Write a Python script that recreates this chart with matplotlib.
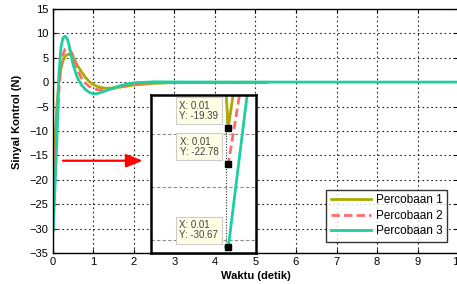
import numpy as np
import matplotlib
matplotlib.use("Agg")
import matplotlib.pyplot as plt

plt.rcParams["font.family"] = ["Liberation Sans", "DejaVu Sans"]

# Control signal of the three trials.
t1 = [0, 0.01, 0.03, 0.05, 0.1, 0.15, 0.2, 0.25, 0.3, 0.35, 0.4, 0.45, 0.5, 0.6, 0.7,
      0.8, 0.9, 1.0, 1.1, 1.2, 1.3, 1.4, 1.6, 1.8, 2.0, 2.5, 3.0, 4.0, 5.3]
u1 = [-15.5, -19.39, -15.9, -12.5, -5.0, 0.2, 2.8, 4.3, 5.2, 5.6, 5.7, 5.6, 5.2, 3.5, 2.2,
      1.0, 0.1, -0.5, -0.9, -1.15, -1.25, -1.25, -1.1, -0.85, -0.6, -0.25, -0.1, -0.05, -0.05]

t2 = [0, 0.01, 0.05, 0.1, 0.15, 0.2, 0.25, 0.3, 0.35, 0.4, 0.5, 0.6, 0.7, 0.8, 0.9,
      1.0, 1.1, 1.2, 1.3, 1.4, 1.6, 1.8, 2.0, 2.5, 3.0, 4.0, 5.3]
u2 = [-22.78, -22.78, -16.6, -9.0, -2.0, 3.0, 5.5, 6.7, 7.0, 6.9, 5.5, 2.6, 0.9, -0.2, -0.9,
      -1.3, -1.55, -1.6, -1.6, -1.5, -1.1, -0.7, -0.4, -0.15, -0.1, -0.08, -0.08]

t3 = [0, 0.01, 0.05, 0.1, 0.15, 0.2, 0.25, 0.3, 0.35, 0.4, 0.5, 0.6, 0.7, 0.8, 0.9,
      1.0, 1.1, 1.2, 1.4, 1.6, 1.8, 2.0, 2.5, 3.0, 4.0, 10.0]
u3 = [-30.67, -30.67, -22.5, -12.3, 1.5, 7.0, 9.0, 9.4, 9.0, 7.6, 3.6, 1.0, -0.5, -1.5, -2.1,
      -2.4, -2.35, -2.1, -1.5, -0.9, -0.45, -0.15, 0.05, 0.02, 0.0, 0.0]

labels = ["Percobaan 1", "Percobaan 2", "Percobaan 3"]
colors = ["#aaaa00", "#ff6a6a", "#1ecf9e"]
styles = ["-", "--", "-"]
series = [(t1, u1), (t2, u2), (t3, u3)]

# datatips shown in the zoomed inset
tip_x = [0.01, 0.01, 0.01]
tip_y = [-19.39, -22.78, -30.67]

fig = plt.figure(figsize=(4.57, 2.84), dpi=100)
ax = fig.add_axes([0.1155, 0.109, 0.887, 0.860])

for (t, u), lab, c, ls in zip(series, labels, colors, styles):
    ax.plot(t, u, ls, color=c, lw=2.0, label=lab,
            dashes=(3, 1.5) if ls == "--" else (None, None))

ax.set_xlim(0, 10)
ax.set_ylim(-35, 15)
ax.set_xticks(range(0, 11))
ax.set_yticks(range(-35, 16, 5))
ax.grid(True, color="0.15", ls=(0, (1.5, 2.5)), lw=0.8)
ax.tick_params(direction="in", length=3, labelsize=8, top=True, right=True, pad=3)
for s in ax.spines.values():
    s.set_linewidth(1.0)
ax.set_xlabel("Waktu (detik)", fontsize=8, fontweight="bold", labelpad=3)
ax.set_ylabel("Sinyal Kontrol (N)", fontsize=8, fontweight="bold")
ax.yaxis.set_label_coords(-0.075, 0.535)

leg = ax.legend(loc="lower right", bbox_to_anchor=(0.973, 0.045), fontsize=8.5,
                frameon=True, fancybox=False, handlelength=3.4, handletextpad=0.4,
                borderpad=0.4, labelspacing=0.3, borderaxespad=0)
leg.get_frame().set_edgecolor("black")
leg.get_frame().set_linewidth(1.0)

# red arrow pointing at the inset
ax.annotate("", xy=(2.22, -16.1), xytext=(0.25, -16.1),
            arrowprops=dict(arrowstyle="-|>,head_length=1.0,head_width=0.4",
                            color="red", lw=1.6, shrinkA=0, shrinkB=0))

# zoomed inset near t = 0
ins = fig.add_axes([0.3315, 0.1102, 0.2287, 0.5553])
for (t, u), c, ls in zip(series, colors, styles):
    ins.plot(t, u, ls, color=c, lw=2.0,
             dashes=(3, 1.5) if ls == "--" else (None, None))
ins.set_xlim(-0.2775, 0.1136)
ins.set_ylim(-31.2, -16.3)
ins.set_xticks([0])
ins.set_yticks([-30, -25, -20])
ins.tick_params(length=0, labelbottom=False, labelleft=False)
ins.grid(True, axis="y", color="0.55", ls=(0, (3, 2)), lw=0.8)
ins.grid(True, axis="x", color="0.2", ls=(0, (1, 1.5)), lw=0.8)
for s in ins.spines.values():
    s.set_linewidth(1.8)

ins.plot(tip_x, tip_y, "s", color="black", ms=5, zorder=5, clip_on=False)
for x, y in zip(tip_x, tip_y):
    ins.annotate(f"X: {x:.2f}\nY: {y:.2f}", xy=(x, y), xytext=(-10, 7),
                 textcoords="offset pixels", ha="right", va="bottom",
                 multialignment="left", fontsize=7, color="0.25", linespacing=0.95,
                 bbox=dict(boxstyle="square,pad=0.38", fc="#ffffe6", ec="0.8", lw=0.8),
                 zorder=6)

fig.savefig("out.png", dpi=100)
